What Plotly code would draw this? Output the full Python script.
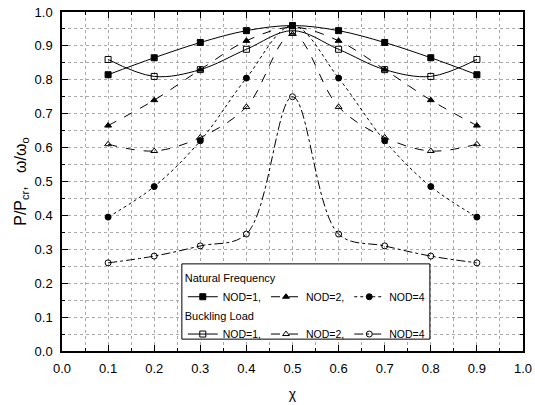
import plotly.graph_objects as go

chi = [0.1, 0.2, 0.3, 0.4, 0.5, 0.6, 0.7, 0.8, 0.9]
nf_nod1 = [0.815, 0.865, 0.91, 0.945, 0.96, 0.945, 0.91, 0.865, 0.815]
nf_nod2 = [0.665, 0.74, 0.83, 0.915, 0.955, 0.915, 0.83, 0.74, 0.665]
nf_nod4 = [0.395, 0.485, 0.62, 0.805, 0.96, 0.805, 0.62, 0.485, 0.395]
bl_nod1 = [0.86, 0.81, 0.83, 0.89, 0.945, 0.89, 0.83, 0.81, 0.86]
bl_nod2 = [0.61, 0.59, 0.63, 0.72, 0.935, 0.72, 0.63, 0.59, 0.61]
bl_nod4 = [0.26, 0.28, 0.31, 0.345, 0.75, 0.345, 0.31, 0.28, 0.26]

FONT = "Liberation Sans, Arial, sans-serif"
fig = go.Figure()

series = [
    (nf_nod1, "NOD=1,", "solid", "square", "legend"),
    (nf_nod2, "NOD=2,", "dash", "triangle-up", "legend"),
    (nf_nod4, "NOD=4", "dot", "circle", "legend"),
    (bl_nod1, "NOD=1,", "solid", "square-open", "legend2"),
    (bl_nod2, "NOD=2,", "dash", "triangle-up-open", "legend2"),
    (bl_nod4, "NOD=4", "dashdot", "circle-open", "legend2"),
]
for y, name, dash, sym, leg in series:
    fig.add_trace(go.Scatter(
        x=chi, y=y, name=name, mode="lines+markers",
        line=dict(color="black", width=1, dash=dash, shape="spline", smoothing=1.0),
        marker=dict(symbol=sym, size=6, color="black", line=dict(color="black", width=1)),
        legend=leg,
    ))

axis_common = dict(
    showline=True, linecolor="black", linewidth=1.5, mirror="allticks",
    ticks="inside", ticklen=6, tickcolor="black", tickwidth=1,
    showgrid=True, gridcolor="#aaaaaa", griddash="dot", gridwidth=1,
    zeroline=False, automargin=False,
    tickfont=dict(family=FONT, size=13, color="black"),
    minor=dict(dtick=0.05, ticks="inside", ticklen=3, tickcolor="black",
               showgrid=True, gridcolor="#aaaaaa", griddash="dot", gridwidth=1),
)

fig.update_xaxes(range=[0, 1], dtick=0.1, tickformat=".1f", ticklabelstandoff=5,
                 title=dict(text="χ", font=dict(family=FONT, size=14, color="black"), standoff=14),
                 **axis_common)
fig.update_yaxes(range=[0, 1], dtick=0.1, tickformat=".1f", ticklabelstandoff=5,
                 title=dict(text="P/P<sub>cr</sub>,   ω/ω<sub>o</sub>", font=dict(family=FONT, size=16, color="black"), standoff=4),
                 **axis_common)

# legend frame
fig.add_shape(type="rect", xref="x", yref="y", x0=0.26, x1=0.798, y0=0.035, y1=0.257,
              fillcolor="white", line=dict(color="black", width=1), layer="above")

leg_common = dict(orientation="h", bgcolor="rgba(0,0,0,0)", borderwidth=0,
                  font=dict(family=FONT, size=10.5, color="black"),
                  xanchor="left", yanchor="top", itemwidth=30, tracegroupgap=0,
                  itemclick=False)
fig.update_layout(
    width=535, height=405,
    margin=dict(l=62, r=12, t=12, b=54, autoexpand=False),
    paper_bgcolor="white", plot_bgcolor="white",
    font=dict(family=FONT, color="black"),
    legend=dict(x=0.262, y=0.245,
                title=dict(text="Natural Frequency", side="top", font=dict(family=FONT, size=11)),
                **leg_common),
    legend2=dict(x=0.262, y=0.135,
                 title=dict(text="Buckling Load", side="top", font=dict(family=FONT, size=11)),
                 **leg_common),
)

fig.write_html("out.html")
